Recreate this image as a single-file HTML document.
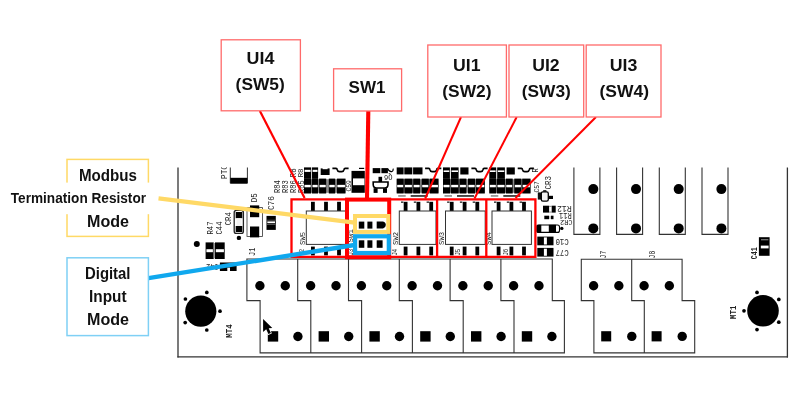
<!DOCTYPE html>
<html lang="en">
<head>
<meta charset="utf-8">
<title>Switch locations</title>
<style>
html,body{margin:0;padding:0;background:#fff;}
body{width:809px;height:402px;overflow:hidden;}
svg{display:block;will-change:transform;}
svg text{white-space:pre;}
</style>
</head>
<body>
<svg width="809" height="402" viewBox="0 0 809 402">
<rect width="809" height="402" fill="#fff"/>
<g class="pcb" font-family="'Liberation Mono', 'DejaVu Sans Mono', monospace">
<line x1="178.00" y1="167.50" x2="178.00" y2="357.50" stroke="#333" stroke-width="1.3" />
<line x1="177.40" y1="356.90" x2="788.00" y2="356.90" stroke="#333" stroke-width="1.3" />
<line x1="787.40" y1="167.50" x2="787.40" y2="357.50" stroke="#333" stroke-width="1.3" />
<path d="M246.90,259.0 V300.6 h13.2 V352.9 H564.4 V300.6 H552.3 V259.0 Z" fill="#fff" stroke="#333" stroke-width="1.1"/>
<path d="M297.70,259.0 V300.6 h13.1 V352.9" fill="none" stroke="#333" stroke-width="1.1"/>
<path d="M348.50,259.0 V300.6 h13.1 V352.9" fill="none" stroke="#333" stroke-width="1.1"/>
<path d="M399.30,259.0 V300.6 h13.1 V352.9" fill="none" stroke="#333" stroke-width="1.1"/>
<path d="M450.10,259.0 V300.6 h13.1 V352.9" fill="none" stroke="#333" stroke-width="1.1"/>
<path d="M500.90,259.0 V300.6 h13.1 V352.9" fill="none" stroke="#333" stroke-width="1.1"/>
<circle cx="259.90" cy="285.80" r="4.7" fill="#000"/>
<circle cx="285.27" cy="285.80" r="4.7" fill="#000"/>
<circle cx="310.64" cy="285.80" r="4.7" fill="#000"/>
<circle cx="336.01" cy="285.80" r="4.7" fill="#000"/>
<circle cx="361.38" cy="285.80" r="4.7" fill="#000"/>
<circle cx="386.75" cy="285.80" r="4.7" fill="#000"/>
<circle cx="412.12" cy="285.80" r="4.7" fill="#000"/>
<circle cx="437.49" cy="285.80" r="4.7" fill="#000"/>
<circle cx="462.86" cy="285.80" r="4.7" fill="#000"/>
<circle cx="488.23" cy="285.80" r="4.7" fill="#000"/>
<circle cx="513.60" cy="285.80" r="4.7" fill="#000"/>
<circle cx="538.97" cy="285.80" r="4.7" fill="#000"/>
<rect x="267.80" y="331.20" width="10.40" height="10.40" fill="#000" />
<circle cx="297.90" cy="336.50" r="4.7" fill="#000"/>
<rect x="318.60" y="331.20" width="10.40" height="10.40" fill="#000" />
<circle cx="348.70" cy="336.50" r="4.7" fill="#000"/>
<rect x="369.40" y="331.20" width="10.40" height="10.40" fill="#000" />
<circle cx="399.50" cy="336.50" r="4.7" fill="#000"/>
<rect x="420.20" y="331.20" width="10.40" height="10.40" fill="#000" />
<circle cx="450.30" cy="336.50" r="4.7" fill="#000"/>
<rect x="471.00" y="331.20" width="10.40" height="10.40" fill="#000" />
<circle cx="501.10" cy="336.50" r="4.7" fill="#000"/>
<rect x="521.80" y="331.20" width="10.40" height="10.40" fill="#000" />
<circle cx="551.90" cy="336.50" r="4.7" fill="#000"/>
<path d="M581.30,259.3 V300.6 h12.6 V352.9 H694.70 V300.6 h-12.6 V259.3 Z" fill="#fff" stroke="#333" stroke-width="1.1"/>
<path d="M631.70,259.3 V300.6 h12.6 V352.9" fill="none" stroke="#333" stroke-width="1.1"/>
<circle cx="593.60" cy="285.70" r="4.7" fill="#000"/>
<circle cx="618.85" cy="285.70" r="4.7" fill="#000"/>
<circle cx="644.10" cy="285.70" r="4.7" fill="#000"/>
<circle cx="669.35" cy="285.70" r="4.7" fill="#000"/>
<rect x="601.20" y="331.20" width="10.00" height="10.20" fill="#000" />
<circle cx="631.80" cy="336.40" r="4.7" fill="#000"/>
<rect x="651.60" y="331.20" width="10.00" height="10.20" fill="#000" />
<circle cx="682.20" cy="336.40" r="4.7" fill="#000"/>
<text transform="translate(605.80,258.40) rotate(-90)" font-size="8.50" textLength="7.59" lengthAdjust="spacingAndGlyphs" fill="#222" >J7</text>
<text transform="translate(655.20,258.40) rotate(-90)" font-size="8.50" textLength="7.59" lengthAdjust="spacingAndGlyphs" fill="#222" >J8</text>
<path d="M573.90,167.5 V234.4 H599.90 V167.5" fill="none" stroke="#333" stroke-width="1.1"/>
<circle cx="593.30" cy="189.10" r="5.0" fill="#000"/>
<circle cx="593.30" cy="228.40" r="5.0" fill="#000"/>
<path d="M616.60,167.5 V234.4 H642.60 V167.5" fill="none" stroke="#333" stroke-width="1.1"/>
<circle cx="636.00" cy="189.10" r="5.0" fill="#000"/>
<circle cx="636.00" cy="228.40" r="5.0" fill="#000"/>
<path d="M659.30,167.5 V234.4 H685.30 V167.5" fill="none" stroke="#333" stroke-width="1.1"/>
<circle cx="678.70" cy="189.10" r="5.0" fill="#000"/>
<circle cx="678.70" cy="228.40" r="5.0" fill="#000"/>
<path d="M702.00,167.5 V234.4 H728.00 V167.5" fill="none" stroke="#333" stroke-width="1.1"/>
<circle cx="721.40" cy="189.10" r="5.0" fill="#000"/>
<circle cx="721.40" cy="228.40" r="5.0" fill="#000"/>
<circle cx="200.80" cy="311.20" r="15.6" fill="#000"/>
<circle cx="206.80" cy="292.40" r="1.85" fill="#000"/>
<circle cx="185.40" cy="299.00" r="1.85" fill="#000"/>
<circle cx="220.00" cy="311.20" r="1.85" fill="#000"/>
<circle cx="185.20" cy="322.60" r="1.85" fill="#000"/>
<circle cx="206.80" cy="330.00" r="1.85" fill="#000"/>
<circle cx="763.00" cy="310.80" r="15.8" fill="#000"/>
<circle cx="757.00" cy="292.40" r="1.85" fill="#000"/>
<circle cx="778.80" cy="299.40" r="1.85" fill="#000"/>
<circle cx="744.00" cy="310.80" r="1.85" fill="#000"/>
<circle cx="778.80" cy="322.20" r="1.85" fill="#000"/>
<circle cx="757.00" cy="329.60" r="1.85" fill="#000"/>
<text transform="translate(231.80,337.70) rotate(-90)" font-size="8.19" textLength="13.34" lengthAdjust="spacingAndGlyphs" fill="#222" font-weight="bold">MT4</text>
<text transform="translate(736.20,318.90) rotate(-90)" font-size="8.19" textLength="13.22" lengthAdjust="spacingAndGlyphs" fill="#222" font-weight="bold">MT1</text>
<rect x="758.90" y="237.20" width="10.70" height="18.60" fill="#000" />
<rect x="761.00" y="239.20" width="7.40" height="1.10" fill="#888" />
<rect x="760.80" y="245.60" width="7.80" height="2.80" fill="#fff" />
<text transform="translate(757.40,259.20) rotate(-90)" font-size="8.19" textLength="11.97" lengthAdjust="spacingAndGlyphs" fill="#222" font-weight="bold">C41</text>
</g>
<g class="det" font-family="'Liberation Mono', 'DejaVu Sans Mono', monospace">
<rect x="311.00" y="201.80" width="3.80" height="9.40" fill="#000" />
<rect x="311.00" y="246.60" width="3.80" height="8.80" fill="#000" />
<rect x="324.10" y="201.80" width="3.80" height="9.40" fill="#000" />
<rect x="324.10" y="246.60" width="3.80" height="8.80" fill="#000" />
<rect x="337.10" y="201.80" width="3.80" height="9.40" fill="#000" />
<rect x="337.10" y="246.60" width="3.80" height="8.80" fill="#000" />
<rect x="306.30" y="211.00" width="39.70" height="33.40" fill="#fff" stroke="#333" stroke-width="1.0"/>
<text transform="translate(304.60,244.90) rotate(-90)" font-size="7.89" textLength="12.89" lengthAdjust="spacingAndGlyphs" fill="#222" >SW5</text>
<rect x="403.70" y="201.80" width="3.80" height="9.40" fill="#000" />
<rect x="403.70" y="246.60" width="3.80" height="8.80" fill="#000" />
<rect x="416.50" y="201.80" width="3.80" height="9.40" fill="#000" />
<rect x="416.50" y="246.60" width="3.80" height="8.80" fill="#000" />
<rect x="429.30" y="201.80" width="3.80" height="9.40" fill="#000" />
<rect x="429.30" y="246.60" width="3.80" height="8.80" fill="#000" />
<rect x="399.30" y="211.00" width="36.70" height="33.40" fill="#fff" stroke="#333" stroke-width="1.0"/>
<text transform="translate(398.20,244.90) rotate(-90)" font-size="7.89" textLength="12.89" lengthAdjust="spacingAndGlyphs" fill="#222" >SW2</text>
<rect x="449.80" y="201.80" width="3.80" height="9.40" fill="#000" />
<rect x="449.80" y="246.60" width="3.80" height="8.80" fill="#000" />
<rect x="462.70" y="201.80" width="3.80" height="9.40" fill="#000" />
<rect x="462.70" y="246.60" width="3.80" height="8.80" fill="#000" />
<rect x="475.40" y="201.80" width="3.80" height="9.40" fill="#000" />
<rect x="475.40" y="246.60" width="3.80" height="8.80" fill="#000" />
<rect x="445.50" y="211.00" width="39.70" height="33.40" fill="#fff" stroke="#333" stroke-width="1.0"/>
<text transform="translate(444.40,244.90) rotate(-90)" font-size="7.89" textLength="12.89" lengthAdjust="spacingAndGlyphs" fill="#222" >SW3</text>
<rect x="496.70" y="201.80" width="3.80" height="9.40" fill="#000" />
<rect x="496.70" y="246.60" width="3.80" height="8.80" fill="#000" />
<rect x="509.50" y="201.80" width="3.80" height="9.40" fill="#000" />
<rect x="509.50" y="246.60" width="3.80" height="8.80" fill="#000" />
<rect x="522.10" y="201.80" width="3.80" height="9.40" fill="#000" />
<rect x="522.10" y="246.60" width="3.80" height="8.80" fill="#000" />
<rect x="492.00" y="211.00" width="39.40" height="33.40" fill="#fff" stroke="#333" stroke-width="1.0"/>
<text transform="translate(491.00,244.90) rotate(-90)" font-size="7.89" textLength="12.89" lengthAdjust="spacingAndGlyphs" fill="#222" >SW4</text>
<rect x="358.80" y="221.60" width="5.50" height="7.00" fill="#000" />
<rect x="367.40" y="221.60" width="5.00" height="7.00" fill="#000" />
<rect x="358.80" y="240.30" width="5.50" height="7.50" fill="#000" />
<rect x="367.40" y="240.30" width="5.00" height="7.50" fill="#000" />
<rect x="376.70" y="240.30" width="5.90" height="7.50" fill="#000" />
<path d="M376.7,221.6 H383 Q385.8,222.4 385.8,225.1 Q385.8,227.8 383,228.6 H376.7 Z" fill="#000"/>
<text transform="translate(353.40,242.50) rotate(-90)" font-size="7.89" textLength="13.39" lengthAdjust="spacingAndGlyphs" fill="#222" >SW1</text>
<text transform="translate(255.40,255.90) rotate(-90)" font-size="9.10" textLength="8.34" lengthAdjust="spacingAndGlyphs" fill="#222" >J1</text>
<text transform="translate(304.00,255.60) rotate(-90)" font-size="7.28" textLength="6.85" lengthAdjust="spacingAndGlyphs" fill="#222" >J2</text>
<text transform="translate(353.30,255.60) rotate(-90)" font-size="7.28" textLength="6.85" lengthAdjust="spacingAndGlyphs" fill="#222" >J3</text>
<text transform="translate(396.50,255.60) rotate(-90)" font-size="7.28" textLength="6.85" lengthAdjust="spacingAndGlyphs" fill="#222" >J4</text>
<text transform="translate(460.00,255.60) rotate(-90)" font-size="7.28" textLength="6.85" lengthAdjust="spacingAndGlyphs" fill="#222" >J5</text>
<text transform="translate(508.00,255.60) rotate(-90)" font-size="7.28" textLength="6.85" lengthAdjust="spacingAndGlyphs" fill="#222" >J6</text>
<rect x="304.00" y="167.40" width="7.20" height="11.40" fill="#000" />
<rect x="304.60" y="169.80" width="6.00" height="2.10" fill="#fff" />
<rect x="312.00" y="167.40" width="6.10" height="11.40" fill="#000" />
<rect x="312.60" y="169.80" width="4.90" height="2.10" fill="#fff" />
<rect x="320.70" y="168.40" width="8.90" height="6.60" fill="#000" />
<rect x="322.60" y="168.00" width="5.00" height="1.20" fill="#fff" />
<rect x="304.00" y="178.60" width="7.20" height="14.90" fill="#000" />
<rect x="304.60" y="184.90" width="6.00" height="2.30" fill="#fff" />
<rect x="312.00" y="178.60" width="6.10" height="14.90" fill="#000" />
<rect x="312.60" y="184.90" width="4.90" height="2.30" fill="#fff" />
<rect x="319.10" y="178.60" width="7.10" height="14.90" fill="#000" />
<rect x="319.70" y="184.90" width="5.90" height="2.30" fill="#fff" />
<rect x="328.80" y="178.60" width="6.40" height="14.90" fill="#000" />
<rect x="329.40" y="184.90" width="5.20" height="2.30" fill="#fff" />
<rect x="336.90" y="178.60" width="8.60" height="14.90" fill="#000" />
<rect x="337.50" y="184.90" width="7.40" height="2.30" fill="#fff" />
<rect x="304.00" y="179.20" width="41.50" height="13.60" fill="#000" opacity="0.45"/>
<rect x="304.60" y="184.90" width="6.00" height="2.30" fill="#fff" />
<rect x="312.60" y="184.90" width="4.90" height="2.30" fill="#fff" />
<rect x="319.70" y="184.90" width="5.90" height="2.30" fill="#fff" />
<rect x="329.40" y="184.90" width="5.20" height="2.30" fill="#fff" />
<rect x="337.50" y="184.90" width="7.40" height="2.30" fill="#fff" />
<path d="M332.4,168.3 h3.6 q1,0 1.2,1.4 q0.4,2 2.2,2 h2.4 q1.8,0 2.2,-2 q0.2,-1.4 1.2,-1.4 h3.4" fill="none" stroke="#000" stroke-width="1.7"/>
<rect x="396.70" y="167.40" width="6.90" height="7.00" fill="#000" />
<rect x="404.30" y="167.40" width="8.00" height="7.00" fill="#000" />
<rect x="413.10" y="167.40" width="9.40" height="7.00" fill="#000" />
<rect x="396.70" y="178.60" width="7.00" height="14.90" fill="#000" />
<rect x="397.30" y="184.90" width="5.80" height="2.30" fill="#fff" />
<rect x="404.40" y="178.60" width="8.00" height="14.90" fill="#000" />
<rect x="405.00" y="184.90" width="6.80" height="2.30" fill="#fff" />
<rect x="413.20" y="178.60" width="6.90" height="14.90" fill="#000" />
<rect x="413.80" y="184.90" width="5.70" height="2.30" fill="#fff" />
<rect x="421.70" y="178.60" width="7.10" height="14.90" fill="#000" />
<rect x="422.30" y="184.90" width="5.90" height="2.30" fill="#fff" />
<rect x="429.60" y="178.60" width="8.90" height="14.90" fill="#000" />
<rect x="430.20" y="184.90" width="7.70" height="2.30" fill="#fff" />
<rect x="396.70" y="179.20" width="41.80" height="13.60" fill="#000" opacity="0.45"/>
<rect x="397.30" y="184.90" width="5.80" height="2.30" fill="#fff" />
<rect x="405.00" y="184.90" width="6.80" height="2.30" fill="#fff" />
<rect x="413.80" y="184.90" width="5.70" height="2.30" fill="#fff" />
<rect x="422.30" y="184.90" width="5.90" height="2.30" fill="#fff" />
<rect x="430.20" y="184.90" width="7.70" height="2.30" fill="#fff" />
<path d="M425.1,168.3 h3.6 q1,0 1.2,1.4 q0.4,2 2.2,2 h2.4 q1.8,0 2.2,-2 q0.2,-1.4 1.2,-1.4 h3.4" fill="none" stroke="#000" stroke-width="1.7"/>
<rect x="401.00" y="201.50" width="2.40" height="1.30" fill="#222" />
<rect x="413.80" y="201.50" width="2.40" height="1.30" fill="#222" />
<rect x="426.60" y="201.50" width="2.40" height="1.30" fill="#222" />
<rect x="398.20" y="195.40" width="7.50" height="1.10" fill="#555" />
<rect x="410.70" y="195.00" width="17.00" height="1.90" fill="#444" />
<rect x="443.00" y="167.40" width="6.90" height="11.40" fill="#000" />
<rect x="443.60" y="170.40" width="5.70" height="1.60" fill="#fff" />
<rect x="450.90" y="167.40" width="7.70" height="11.40" fill="#000" />
<rect x="451.50" y="170.40" width="6.50" height="1.60" fill="#fff" />
<rect x="460.30" y="167.40" width="8.20" height="7.10" fill="#000" />
<rect x="443.00" y="178.60" width="7.00" height="14.90" fill="#000" />
<rect x="443.60" y="184.90" width="5.80" height="2.30" fill="#fff" />
<rect x="450.70" y="178.60" width="8.00" height="14.90" fill="#000" />
<rect x="451.30" y="184.90" width="6.80" height="2.30" fill="#fff" />
<rect x="459.50" y="178.60" width="6.90" height="14.90" fill="#000" />
<rect x="460.10" y="184.90" width="5.70" height="2.30" fill="#fff" />
<rect x="468.00" y="178.60" width="7.10" height="14.90" fill="#000" />
<rect x="468.60" y="184.90" width="5.90" height="2.30" fill="#fff" />
<rect x="475.90" y="178.60" width="8.90" height="14.90" fill="#000" />
<rect x="476.50" y="184.90" width="7.70" height="2.30" fill="#fff" />
<rect x="443.00" y="179.20" width="41.80" height="13.60" fill="#000" opacity="0.45"/>
<rect x="443.60" y="184.90" width="5.80" height="2.30" fill="#fff" />
<rect x="451.30" y="184.90" width="6.80" height="2.30" fill="#fff" />
<rect x="460.10" y="184.90" width="5.70" height="2.30" fill="#fff" />
<rect x="468.60" y="184.90" width="5.90" height="2.30" fill="#fff" />
<rect x="476.50" y="184.90" width="7.70" height="2.30" fill="#fff" />
<path d="M471.4,168.3 h3.6 q1,0 1.2,1.4 q0.4,2 2.2,2 h2.4 q1.8,0 2.2,-2 q0.2,-1.4 1.2,-1.4 h3.4" fill="none" stroke="#000" stroke-width="1.7"/>
<rect x="447.10" y="201.50" width="2.40" height="1.30" fill="#222" />
<rect x="459.90" y="201.50" width="2.40" height="1.30" fill="#222" />
<rect x="472.70" y="201.50" width="2.40" height="1.30" fill="#222" />
<rect x="444.50" y="195.40" width="7.50" height="1.10" fill="#555" />
<rect x="457.00" y="195.00" width="17.00" height="1.90" fill="#444" />
<rect x="489.30" y="167.40" width="6.90" height="11.40" fill="#000" />
<rect x="489.90" y="170.40" width="5.70" height="1.60" fill="#fff" />
<rect x="497.20" y="167.40" width="7.70" height="11.40" fill="#000" />
<rect x="497.80" y="170.40" width="6.50" height="1.60" fill="#fff" />
<rect x="506.60" y="167.40" width="8.20" height="7.10" fill="#000" />
<rect x="489.30" y="178.60" width="7.00" height="14.90" fill="#000" />
<rect x="489.90" y="184.90" width="5.80" height="2.30" fill="#fff" />
<rect x="497.00" y="178.60" width="8.00" height="14.90" fill="#000" />
<rect x="497.60" y="184.90" width="6.80" height="2.30" fill="#fff" />
<rect x="505.80" y="178.60" width="6.90" height="14.90" fill="#000" />
<rect x="506.40" y="184.90" width="5.70" height="2.30" fill="#fff" />
<rect x="514.30" y="178.60" width="7.10" height="14.90" fill="#000" />
<rect x="514.90" y="184.90" width="5.90" height="2.30" fill="#fff" />
<rect x="522.20" y="178.60" width="8.30" height="14.90" fill="#000" />
<rect x="522.80" y="184.90" width="7.10" height="2.30" fill="#fff" />
<rect x="489.30" y="179.20" width="41.20" height="13.60" fill="#000" opacity="0.45"/>
<rect x="489.90" y="184.90" width="5.80" height="2.30" fill="#fff" />
<rect x="497.60" y="184.90" width="6.80" height="2.30" fill="#fff" />
<rect x="506.40" y="184.90" width="5.70" height="2.30" fill="#fff" />
<rect x="514.90" y="184.90" width="5.90" height="2.30" fill="#fff" />
<rect x="522.80" y="184.90" width="7.10" height="2.30" fill="#fff" />
<path d="M517.7,168.3 h3.6 q1,0 1.2,1.4 q0.4,2 2.2,2 h2.4 q1.8,0 2.2,-2 q0.2,-1.4 1.2,-1.4 h3.4" fill="none" stroke="#000" stroke-width="1.7"/>
<rect x="494.00" y="201.50" width="2.40" height="1.30" fill="#222" />
<rect x="506.80" y="201.50" width="2.40" height="1.30" fill="#222" />
<rect x="519.60" y="201.50" width="2.40" height="1.30" fill="#222" />
<rect x="490.80" y="195.40" width="7.50" height="1.10" fill="#555" />
<rect x="503.30" y="195.00" width="17.00" height="1.90" fill="#444" />
<rect x="351.50" y="170.90" width="13.30" height="21.90" fill="#000" />
<rect x="353.00" y="178.40" width="11.40" height="6.80" fill="#fff" />
<text transform="translate(350.60,191.60) rotate(-90)" font-size="6.68" textLength="11.35" lengthAdjust="spacingAndGlyphs" fill="#222" >C59</text>
<rect x="359.00" y="167.80" width="5.20" height="1.20" fill="#000" />
<rect x="372.70" y="168.10" width="7.60" height="5.10" fill="#000" />
<rect x="381.40" y="168.10" width="6.50" height="5.10" fill="#000" />
<path d="M387.6,168.6 q1.4,3.4 4.2,3.0 q1.6,-0.4 1.4,-3.0" fill="none" stroke="#000" stroke-width="1.2"/>
<rect x="378.50" y="176.80" width="3.60" height="5.20" fill="#000" />
<rect x="373.60" y="188.20" width="4.00" height="4.70" fill="#000" />
<rect x="383.00" y="188.20" width="4.00" height="4.70" fill="#000" />
<path d="M373.2,182.0 H388.0 V184.6 Q388.0,188.0 384.6,188.0 H376.6 Q373.2,188.0 373.2,184.6 Z" fill="#fff" stroke="#000" stroke-width="1.6"/>
<text transform="translate(392.60,175.40) rotate(180)" font-size="7.89" textLength="8.49" lengthAdjust="spacingAndGlyphs" fill="#222" >Q6</text>
<text transform="translate(538.60,192.60) rotate(-90)" font-size="6.98" textLength="11.43" lengthAdjust="spacingAndGlyphs" fill="#222" >C57</text>
<text transform="translate(538.40,172.50) rotate(-90)" font-size="8.19" textLength="4.24" lengthAdjust="spacingAndGlyphs" fill="#222" >R</text>
<text transform="translate(226.80,178.90) rotate(-90)" font-size="9.10" textLength="13.69" lengthAdjust="spacingAndGlyphs" fill="#222" >PTC</text>
<rect x="215.00" y="158.00" width="17.00" height="9.30" fill="#fff" />
<path d="M230.3,167.5 V183.2 H247.4 V167.5" fill="none" stroke="#333" stroke-width="1"/>
<rect x="230.30" y="177.80" width="17.10" height="5.60" fill="#000" />
<text transform="translate(279.60,193.10) rotate(-90)" font-size="8.50" textLength="12.79" lengthAdjust="spacingAndGlyphs" fill="#222" >R84</text>
<text transform="translate(288.00,193.10) rotate(-90)" font-size="8.50" textLength="12.79" lengthAdjust="spacingAndGlyphs" fill="#222" >R83</text>
<text transform="translate(296.00,193.10) rotate(-90)" font-size="8.50" textLength="12.79" lengthAdjust="spacingAndGlyphs" fill="#222" >R86</text>
<text transform="translate(303.50,193.10) rotate(-90)" font-size="8.19" textLength="12.72" lengthAdjust="spacingAndGlyphs" fill="#222" >R85</text>
<text transform="translate(295.60,177.30) rotate(-90)" font-size="8.19" textLength="8.87" lengthAdjust="spacingAndGlyphs" fill="#222" >R8</text>
<text transform="translate(303.40,177.30) rotate(-90)" font-size="7.89" textLength="8.79" lengthAdjust="spacingAndGlyphs" fill="#222" >R8</text>
<text transform="translate(257.30,202.30) rotate(-90)" font-size="9.41" textLength="9.01" lengthAdjust="spacingAndGlyphs" fill="#222" >D5</text>
<rect x="247.00" y="207.60" width="15.40" height="28.80" fill="#fff" stroke="#333" stroke-width="0.8"/>
<rect x="250.00" y="205.40" width="9.20" height="11.80" fill="#000" />
<rect x="250.00" y="226.50" width="9.20" height="10.90" fill="#000" />
<text transform="translate(274.10,210.10) rotate(-90)" font-size="9.10" textLength="13.94" lengthAdjust="spacingAndGlyphs" fill="#222" >C76</text>
<rect x="266.50" y="215.90" width="9.30" height="14.00" fill="#000" />
<rect x="267.30" y="221.40" width="7.70" height="1.80" fill="#fff" />
<rect x="266.90" y="219.80" width="8.50" height="0.70" fill="#777" />
<rect x="266.90" y="224.20" width="8.50" height="0.70" fill="#777" />
<text transform="translate(230.70,225.30) rotate(-90)" font-size="9.41" textLength="13.26" lengthAdjust="spacingAndGlyphs" fill="#222" >CR4</text>
<rect x="234.2" y="210.4" width="9.2" height="23.0" rx="2.2" fill="#fff" stroke="#222" stroke-width="1.3"/>
<rect x="235.70" y="212.00" width="6.60" height="6.20" fill="#000" />
<rect x="235.70" y="226.00" width="6.60" height="6.00" fill="#000" />
<rect x="236.50" y="218.20" width="5.00" height="7.80" fill="#f2f2f2" />
<circle cx="238.90" cy="237.90" r="2.2" fill="#000"/>
<text transform="translate(212.80,234.60) rotate(-90)" font-size="8.80" textLength="13.11" lengthAdjust="spacingAndGlyphs" fill="#222" >R47</text>
<text transform="translate(222.10,234.60) rotate(-90)" font-size="9.10" textLength="13.19" lengthAdjust="spacingAndGlyphs" fill="#222" >C44</text>
<circle cx="196.80" cy="244.10" r="3.0" fill="#000"/>
<rect x="205.60" y="242.40" width="8.10" height="16.60" fill="#000" />
<rect x="206.40" y="249.20" width="6.50" height="3.00" fill="#fff" />
<rect x="215.00" y="242.40" width="9.70" height="16.60" fill="#000" />
<rect x="215.80" y="249.20" width="8.10" height="3.00" fill="#fff" />
<rect x="213.70" y="243.00" width="1.30" height="15.40" fill="#999" />
<text transform="translate(218.60,264.40) rotate(180)" font-size="8.19" textLength="12.47" lengthAdjust="spacingAndGlyphs" fill="#222" >C42</text>
<rect x="219.90" y="262.50" width="16.70" height="8.50" fill="#000" />
<rect x="227.30" y="267.60" width="2.70" height="3.60" fill="#fff" />
<text transform="translate(551.40,189.40) rotate(-90)" font-size="9.41" textLength="13.51" lengthAdjust="spacingAndGlyphs" fill="#222" >CR3</text>
<rect x="537.80" y="192.40" width="3.80" height="7.20" fill="#111" />
<rect x="541.3" y="191.8" width="7.0" height="9.4" rx="1.6" fill="#f4f4f4" stroke="#000" stroke-width="1.3"/>
<rect x="548.60" y="195.80" width="4.40" height="3.20" fill="#000" />
<rect x="543.20" y="190.20" width="3.20" height="1.40" fill="#000" />
<rect x="543.00" y="205.70" width="6.10" height="6.90" fill="#000" />
<rect x="551.70" y="205.70" width="4.00" height="6.90" fill="#000" />
<rect x="549.10" y="205.90" width="2.60" height="0.70" fill="#555" />
<rect x="549.10" y="211.70" width="2.60" height="0.70" fill="#555" />
<text transform="translate(571.70,206.00) rotate(180)" font-size="8.50" textLength="14.54" lengthAdjust="spacingAndGlyphs" fill="#222" >R12</text>
<text transform="translate(571.70,213.40) rotate(180)" font-size="8.19" textLength="12.72" lengthAdjust="spacingAndGlyphs" fill="#222" >R11</text>
<text transform="translate(572.60,219.90) rotate(180)" font-size="7.59" textLength="12.57" lengthAdjust="spacingAndGlyphs" fill="#222" >CR2</text>
<rect x="544.30" y="215.70" width="4.70" height="3.50" fill="#000" />
<rect x="551.00" y="215.70" width="2.50" height="3.50" fill="#000" />
<rect x="549.00" y="215.90" width="2.00" height="3.10" fill="#ccc" />
<rect x="536.9" y="225.0" width="22.6" height="7.4" rx="2" fill="#fff" stroke="#000" stroke-width="1.1"/>
<rect x="536.60" y="224.80" width="4.70" height="7.70" fill="#000" />
<rect x="548.80" y="224.80" width="7.20" height="7.70" fill="#000" />
<circle cx="561.80" cy="228.40" r="1.7" fill="#000"/>
<rect x="537.30" y="236.60" width="16.20" height="8.70" fill="#000" />
<rect x="543.90" y="237.40" width="3.00" height="7.10" fill="#fff" />
<text transform="translate(568.80,238.60) rotate(180)" font-size="8.65" textLength="13.33" lengthAdjust="spacingAndGlyphs" fill="#222" >C10</text>
<rect x="537.30" y="247.90" width="16.20" height="8.70" fill="#000" />
<rect x="543.90" y="248.70" width="3.00" height="7.10" fill="#fff" />
<text transform="translate(568.80,249.90) rotate(180)" font-size="8.65" textLength="13.33" lengthAdjust="spacingAndGlyphs" fill="#222" >C77</text>
</g>
<g class="ov">
<path d="M347,199.3 H291.5 V256.9 H347" fill="none" stroke="#ff0000" stroke-width="2.3"/>
<path d="M389,199.3 H535.4 V256.9 H389 M437.1,199.3 V256.9 M486.3,199.3 V256.9" fill="none" stroke="#ff0000" stroke-width="2.3"/>
<rect x="347" y="199.6" width="42.2" height="57.6" fill="none" stroke="#ff0000" stroke-width="4"/>
<line x1="368.30" y1="111.00" x2="367.00" y2="199.60" stroke="#ff0000" stroke-width="4.1" />
<line x1="259.90" y1="111.00" x2="304.60" y2="198.00" stroke="#ff0000" stroke-width="2.2" />
<line x1="461.00" y1="117.00" x2="425.20" y2="198.50" stroke="#ff0000" stroke-width="2" />
<line x1="516.70" y1="117.00" x2="474.50" y2="198.50" stroke="#ff0000" stroke-width="2" />
<line x1="596.00" y1="117.00" x2="515.50" y2="198.00" stroke="#ff0000" stroke-width="2" />
<line x1="158.50" y1="198.40" x2="354.50" y2="222.70" stroke="#ffd966" stroke-width="4.2" />
<line x1="148.50" y1="278.20" x2="354.50" y2="245.00" stroke="#10a8ee" stroke-width="4.4" />
<rect x="355.0" y="216.0" width="33.3" height="15.9" fill="none" stroke="#ffd966" stroke-width="4"/>
<rect x="355.1" y="236.3" width="33.7" height="16.7" fill="none" stroke="#10a8ee" stroke-width="4.2"/>
<rect x="221.2" y="39.8" width="79.20" height="71.00" fill="#fff" stroke="#ff6a6a" stroke-width="1.3"/>
<rect x="333.6" y="68.8" width="68.00" height="42.20" fill="#fff" stroke="#ff6a6a" stroke-width="1.3"/>
<rect x="427.8" y="45.0" width="78.60" height="72.00" fill="#fff" stroke="#ff6a6a" stroke-width="1.3"/>
<rect x="509.0" y="45.0" width="74.70" height="72.00" fill="#fff" stroke="#ff6a6a" stroke-width="1.3"/>
<rect x="586.2" y="45.0" width="74.80" height="72.00" fill="#fff" stroke="#ff6a6a" stroke-width="1.3"/>
<rect x="67.0" y="159.4" width="81.40" height="77.00" fill="#fff" stroke="#ffd966" stroke-width="1.5"/>
<rect x="5.00" y="182.60" width="147.00" height="31.60" fill="#fff" />
<rect x="67.0" y="257.8" width="81.40" height="77.80" fill="#fff" stroke="#7fd0f5" stroke-width="1.5"/>
</g>
<g class="lbl" font-family="'Liberation Sans', sans-serif">
<text x="246.60" y="63.60" font-size="16" font-weight="bold" textLength="27.80" lengthAdjust="spacingAndGlyphs" fill="#111">UI4</text>
<text x="235.60" y="90.40" font-size="16" font-weight="bold" textLength="49.20" lengthAdjust="spacingAndGlyphs" fill="#111">(SW5)</text>
<text x="348.60" y="93.20" font-size="16" font-weight="bold" textLength="36.90" lengthAdjust="spacingAndGlyphs" fill="#111">SW1</text>
<text x="453.00" y="70.80" font-size="16" font-weight="bold" textLength="27.50" lengthAdjust="spacingAndGlyphs" fill="#111">UI1</text>
<text x="442.30" y="96.90" font-size="16" font-weight="bold" textLength="49.20" lengthAdjust="spacingAndGlyphs" fill="#111">(SW2)</text>
<text x="532.20" y="70.80" font-size="16" font-weight="bold" textLength="27.40" lengthAdjust="spacingAndGlyphs" fill="#111">UI2</text>
<text x="521.80" y="96.90" font-size="16" font-weight="bold" textLength="49.00" lengthAdjust="spacingAndGlyphs" fill="#111">(SW3)</text>
<text x="609.80" y="70.80" font-size="16" font-weight="bold" textLength="27.60" lengthAdjust="spacingAndGlyphs" fill="#111">UI3</text>
<text x="599.50" y="96.90" font-size="16" font-weight="bold" textLength="49.50" lengthAdjust="spacingAndGlyphs" fill="#111">(SW4)</text>
<text x="79.00" y="180.70" font-size="15.6" font-weight="bold" textLength="58.00" lengthAdjust="spacingAndGlyphs" fill="#111">Modbus</text>
<text x="10.80" y="203.00" font-size="14.3" font-weight="bold" textLength="135.20" lengthAdjust="spacingAndGlyphs" fill="#111">Termination Resistor</text>
<text x="87.00" y="226.80" font-size="15.6" font-weight="bold" textLength="42.00" lengthAdjust="spacingAndGlyphs" fill="#111">Mode</text>
<text x="85.00" y="279.00" font-size="16" font-weight="bold" textLength="45.50" lengthAdjust="spacingAndGlyphs" fill="#111">Digital</text>
<text x="89.00" y="301.90" font-size="16" font-weight="bold" textLength="37.50" lengthAdjust="spacingAndGlyphs" fill="#111">Input</text>
<text x="87.00" y="324.80" font-size="16" font-weight="bold" textLength="42.00" lengthAdjust="spacingAndGlyphs" fill="#111">Mode</text>
</g>
<path d="M263.1,318.9 L263.1,331.9 L266.2,329.2 L268.4,334.1 L270.9,333.0 L268.7,328.2 L272.3,327.9 Z" fill="#000" stroke="#fff" stroke-width="1.6" paint-order="stroke" stroke-linejoin="round"/>
</svg>
</body>
</html>
